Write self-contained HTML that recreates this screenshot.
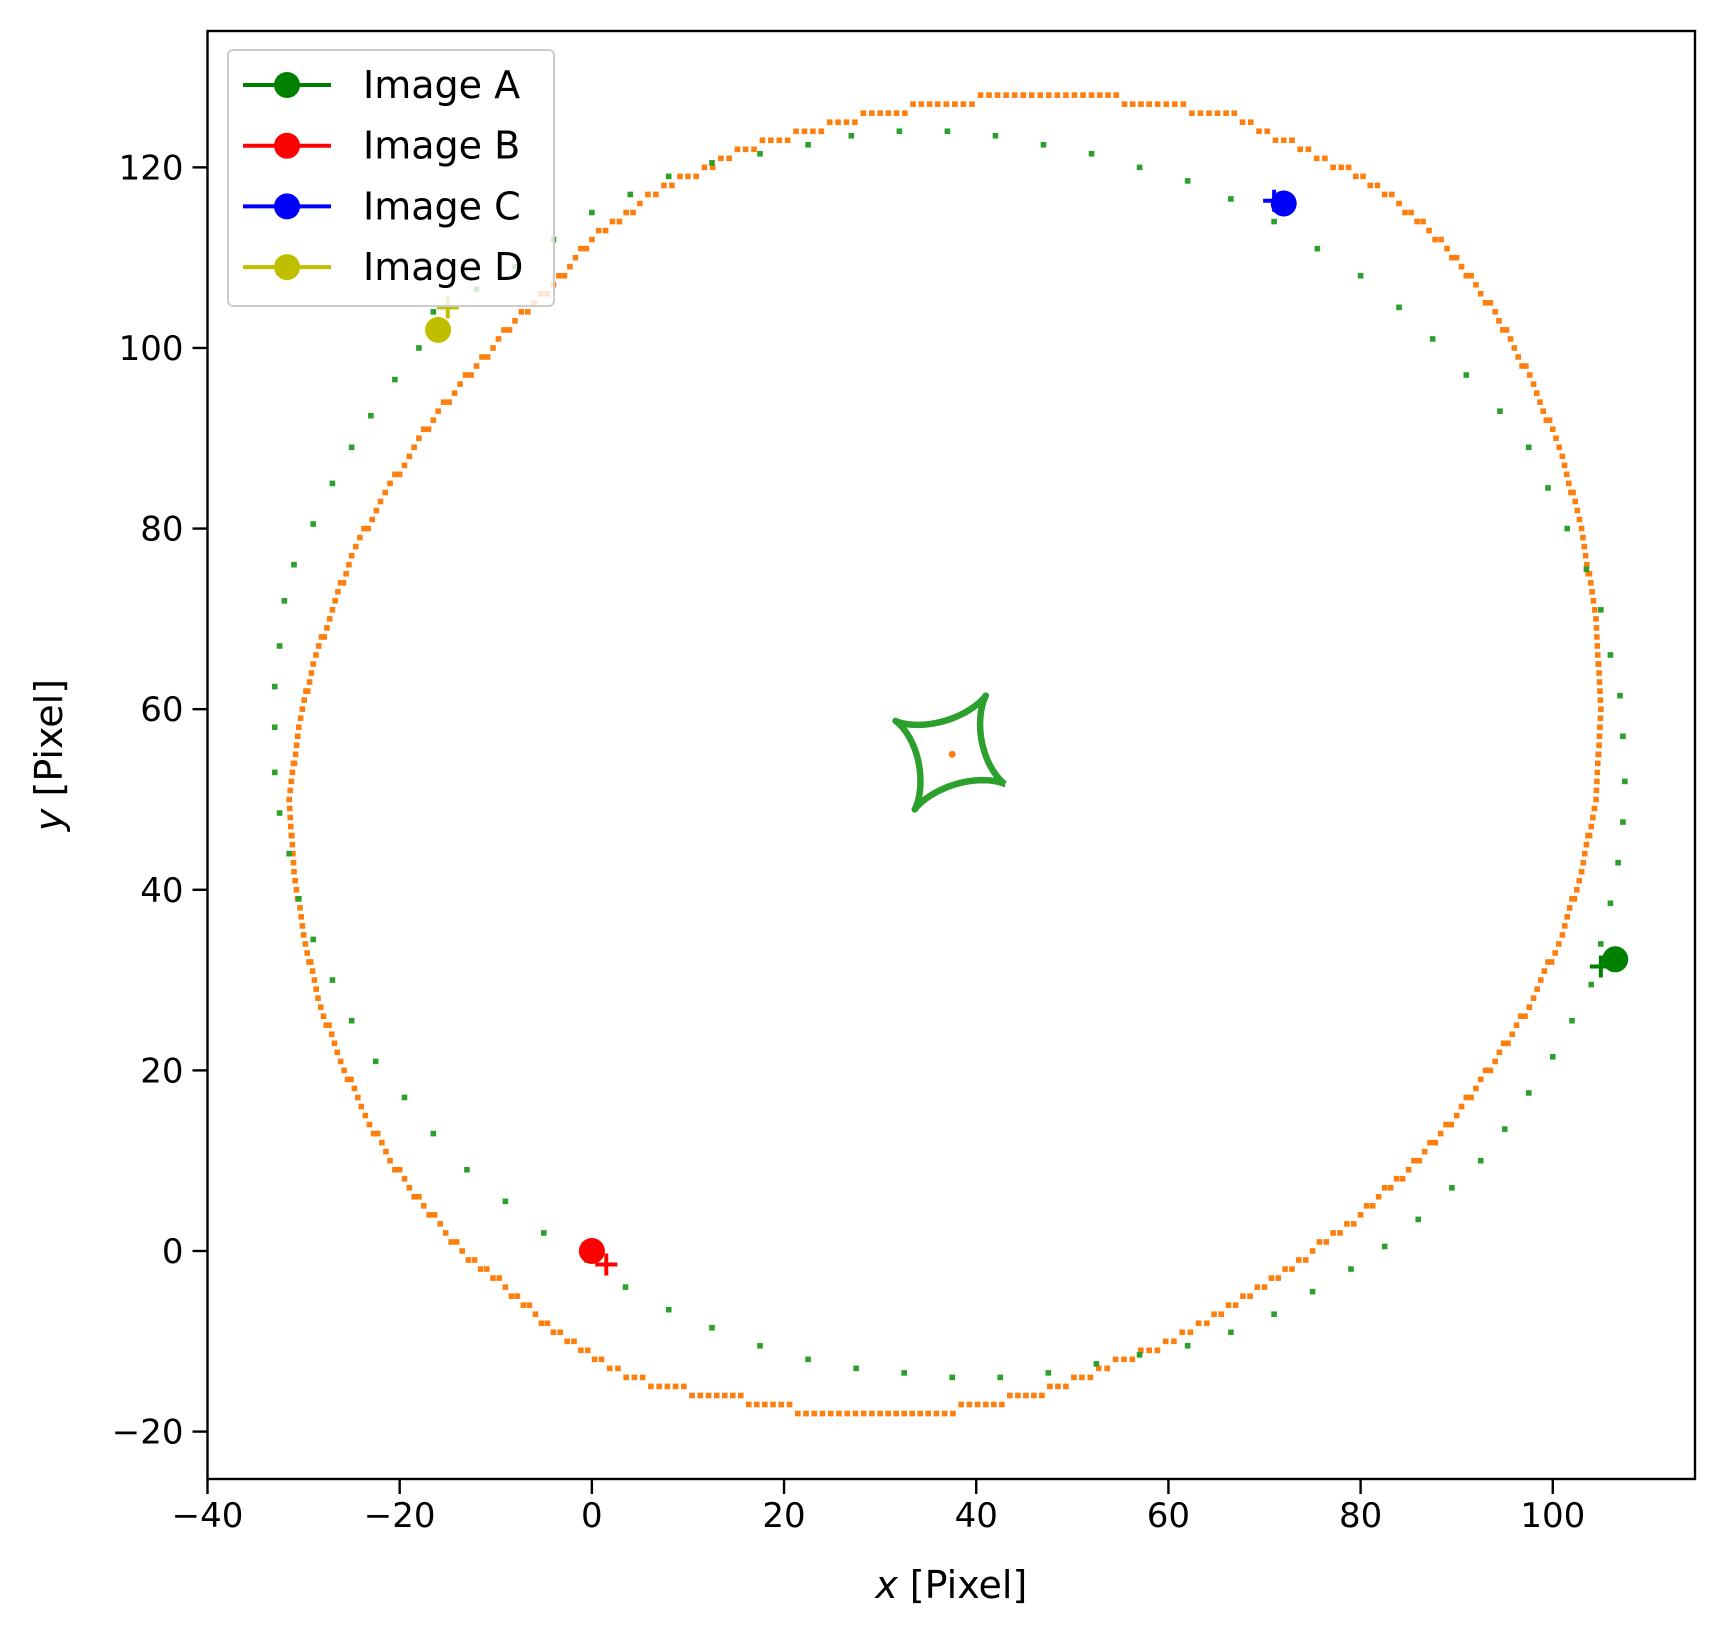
<!DOCTYPE html>
<html><head><meta charset="utf-8"><style>
html,body{margin:0;padding:0;background:#fff;}
svg{display:block;font-family:"DejaVu Sans","Liberation Sans",sans-serif;}
</style></head><body>
<svg id="chart" width="1724" height="1636" viewBox="0 0 1724 1636" xmlns="http://www.w3.org/2000/svg">
<g id="plot"></g>
</svg>
<script>
const xTicks=[-40,-20,0,20,40,60,80,100];
const yTicks=[-20,0,20,40,60,80,100,120];
const xDomain=[-40,114.8];
const yDomain=[-25.25,135.1];
// critical curve outline (orange)
const critX=[-31.5,-31,-30,-28.5,-26.5,-24,-21,-17.5,-13.5,-9,-4,1,7,13,18,24,30,35,41,46,51,58,64,70,75,80,85,90,94,98,101,103,104.5,105,104.5,103,101,98,94,89,84,78,72,66,58,52,44,36,30,23,16,10,5,0,-4,-8,-12,-16,-19,-22,-25,-27,-29,-30.5,-31.5];
const critY=[50,42,35,28,22,16,10,5,0,-4,-9,-12.5,-15,-16,-17,-18,-18,-18,-17,-16,-14,-11,-8,-4,0,4,9,15,21,28,35,42,50,60,70,80,88,96,104,111,116,120,123,126,127,128,128,127,126,124,122,119,116,112,107,103,98,93,88,83,77,71,65,58,50];
// outer green dotted curve
const ringX=[-33,-33,-33,-32.5,-31.5,-30.5,-29,-27,-25,-22.5,-19.5,-16.5,-13,-9,-5,-0.5,3.5,8,12.5,17.5,22.5,27.5,32.5,37.5,42.5,47.5,52.5,57,62,66.5,71,75,79,82.5,86,89.5,92.5,95,97.5,100,102,104,105,106,106.8,107.3,107.5,107.3,107,106,105,103.5,101.5,99.5,97.5,94.5,91,87.5,84,80,75.5,71,66.5,62,57,52,47,42,37,32,27,22.5,17.5,12.5,8,4,0,-4,-8,-12,-16.5,-18,-20.5,-23,-25,-27,-29,-31,-32,-32.5];
const ringY=[62.5,58,53,48.5,44,39,34.5,30,25.5,21,17,13,9,5.5,2,-1,-4,-6.5,-8.5,-10.5,-12,-13,-13.5,-14,-14,-13.5,-12.5,-11.5,-10.5,-9,-7,-4.5,-2,0.5,3.5,7,10,13.5,17.5,21.5,25.5,29.5,34,38.5,43,47.5,52,57,61.5,66,71,75.5,80,84.5,89,93,97,101,104.5,108,111,114,116.5,118.5,120,121.5,122.5,123.5,124,124,123.5,122.5,121.5,120.5,119,117,115,112,109,106.5,104,100,96.5,92.5,89,85,80.5,76,72,67];
// caustic (astroid) centre and cusp vectors
const causticCenter=[37.3,55.2];
const cuspU=[5.7,-3.5];
const cuspV=[3.7,6.3];
const sourcePos=[37.5,55];
// images
const imgNames=["Image A","Image B","Image C","Image D"];
const imgColors=["#008000","#ff0000","#0000ff","#bfbf00"];
const imgX=[106.5,0,72,-16];
const imgY=[32.3,0,116,102];
const modelX=[105,1.5,71,-15];
const modelY=[31.5,-1.5,116.3,104.5];

const L=207.5,R=1695,T=31,B=1479;
const sx=v=>L+(v-xDomain[0])/(xDomain[1]-xDomain[0])*(R-L);
const sy=v=>B-(v-yDomain[0])/(yDomain[1]-yDomain[0])*(B-T);
const NS="http://www.w3.org/2000/svg";
const g=document.getElementById('plot');
function mk(tag,attrs,parent){const e=document.createElementNS(NS,tag);for(const k in attrs)e.setAttribute(k,attrs[k]);(parent||g).appendChild(e);return e;}

const D=5.6;
const crit=mk('g',{});


for(let i=0;i<critX.length-1;i++){
  const dx=critX[i+1]-critX[i],dy=critY[i+1]-critY[i];
  const n=Math.max(1,Math.round(Math.hypot(dx,dy)/0.9));
  for(let j=0;j<n;j++){
    const x=critX[i]+dx*j/n,y=Math.round(critY[i]+dy*j/n);
    const r=mk('rect',{x:sx(x)-D/2,y:sy(y)-D/2,width:D,height:D,fill:'#ff7f0e'},crit);
    
    
  }
}
const ring=mk('g',{});


for(let i=0;i<ringX.length;i++){
  const r=mk('rect',{x:sx(ringX[i])-D/2,y:sy(ringY[i])-D/2,width:D,height:D,fill:'#2ca02c'},ring);
  
  
}
let d='';
for(let k=0;k<=200;k++){
  const t=k/200*2*Math.PI,c=Math.cos(t)**3,s=Math.sin(t)**3;
  const x=causticCenter[0]+cuspU[0]*c+cuspV[0]*s,y=causticCenter[1]+cuspU[1]*c+cuspV[1]*s;
  d+=(k?'L':'M')+sx(x).toFixed(1)+','+sy(y).toFixed(1);
}
const ast=mk('path',{d:d,fill:'none',stroke:'#2ca02c','stroke-width':6.5,'stroke-linejoin':'round'});


const src=mk('circle',{cx:sx(sourcePos[0]),cy:sy(sourcePos[1]),r:3.5,fill:'#ff7f0e'});


for(let i=0;i<imgNames.length;i++){
  const px=sx(modelX[i]),py=sy(modelY[i]);
  const p=mk('path',{d:`M${px-11},${py}H${px+11}M${px},${py-11}V${py+11}`,stroke:imgColors[i],'stroke-width':4});
  
  
  const c=mk('circle',{cx:sx(imgX[i]),cy:sy(imgY[i]),r:13,fill:imgColors[i]});
  
  
}
const fr=mk('rect',{x:L,y:T,width:R-L,height:B-T,fill:'none',stroke:'#000','stroke-width':2.4});


xTicks.forEach(v=>{
  const x=sx(v);
  const t=mk('line',{x1:x,x2:x,y1:B,y2:B+15,stroke:'#000','stroke-width':2.4});
  
  
  const l=mk('text',{x:x,y:B+48,'font-size':34,'text-anchor':'middle'});
  l.textContent=v<0?'\u2212'+(-v):v;
  
  
});
yTicks.forEach(v=>{
  const y=sy(v);
  const t=mk('line',{x1:L-15,x2:L,y1:y,y2:y,stroke:'#000','stroke-width':2.4});
  
  
  const l=mk('text',{x:L-24,y:y+12,'font-size':34,'text-anchor':'end'});
  l.textContent=v<0?'\u2212'+(-v):v;
  
  
});
const xt=mk('text',{x:(L+R)/2,y:1598,'font-size':38,'text-anchor':'middle'});
xt.innerHTML='<tspan font-style="italic">x</tspan> [Pixel]';


const yt=mk('text',{x:0,y:0,'font-size':38,'text-anchor':'middle',transform:`translate(62,${(T+B)/2}) rotate(-90)`});
yt.innerHTML='<tspan font-style="italic">y</tspan> [Pixel]';


const lg=mk('g',{});


const lb=mk('rect',{x:228,y:50,width:326,height:256,rx:5,fill:'#fff','fill-opacity':0.8,stroke:'#ccc','stroke-width':2},lg);


imgNames.forEach((n,i)=>{
  const y=85+i*60.7;
  const e=mk('g',{},lg);
  
  
  mk('line',{x1:243,x2:331,y1:y,y2:y,stroke:imgColors[i],'stroke-width':4},e);
  mk('circle',{cx:287,cy:y,r:13,fill:imgColors[i]},e);
  const t=mk('text',{x:363,y:y+13,'font-size':38},e);
  t.textContent=n;
});
</script>
</body></html>
